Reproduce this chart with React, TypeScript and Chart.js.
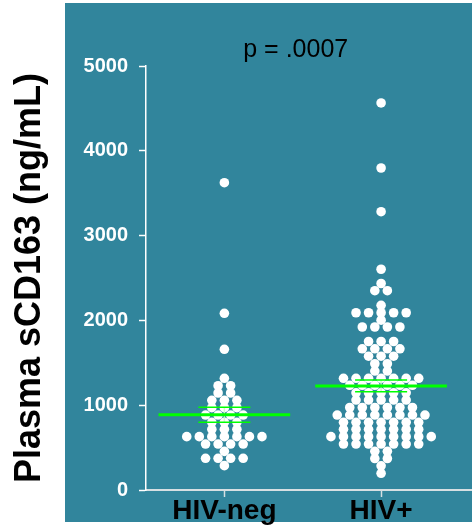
import { useEffect, useRef } from "react";
import { Chart, registerables } from "chart.js";

Chart.register(...registerables);

// Group names on the x axis
const groups = ["HIV-neg", "HIV+"];

// Plasma sCD163 (ng/mL), one entry per subject
const hivNeg = [
  3624, 2084, 1659, 1317,
  1230, 1230,
  1144, 1144,
  1058, 1058, 1058,
  971, 971, 971,
  884, 884, 884, 884,
  798, 798, 798,
  716, 716, 716,
  629, 629, 629, 629, 629, 629, 629,
  542, 542, 542, 542,
  456,
  374, 374, 374, 374,
  287,
];

const hivPos = [
  4564, 3797, 3282, 2603, 2435,
  2350, 2350,
  2178,
  2090, 2090, 2090, 2090, 2090,
  2002,
  1922, 1922, 1922, 1922,
  1751, 1751, 1751,
  1665, 1665, 1665, 1665,
  1578, 1578, 1578,
  1489, 1489,
  1403, 1403,
  1317, 1317, 1317, 1317, 1317, 1317, 1317,
  1235, 1235, 1235, 1235, 1235, 1235,
  1146, 1146, 1146, 1146, 1146,
  1061, 1061, 1061, 1061, 1061,
  973, 973, 973, 973, 973, 973,
  884, 884, 884, 884, 884, 884, 884, 884,
  798, 798, 798, 798, 798, 798, 798,
  716, 716, 716, 716, 716, 716, 716,
  629, 629, 629, 629, 629, 629, 629, 629, 629,
  542, 542, 542, 542, 542, 542, 542,
  456, 456,
  371, 371,
  285,
  197,
];

const yMin = 0;
const yMax = 5000;
const yStep = 1000;

const yTitle = "Plasma sCD163 (ng/mL)";
const pText = "p = .0007";

const PANEL = "#31859C";
const GREEN = "#00FF00";
const FONT = "'Liberation Sans', Arial, sans-serif";
const DOT_STEP = 0.08; // spacing of dots sharing a row, in category units

type Pt = { x: number; y: number };

// Spread dots that share a value side by side, centred on the group
function swarm(values: number[], index: number): Pt[] {
  const rows = new Map<number, number>();
  values.forEach((v) => rows.set(v, (rows.get(v) ?? 0) + 1));
  const pts: Pt[] = [];
  rows.forEach((n, v) => {
    for (let i = 0; i < n; i++) {
      pts.push({ x: index + (i - (n - 1) / 2) * DOT_STEP, y: v });
    }
  });
  return pts;
}

function meanSem(values: number[]) {
  const n = values.length;
  const mean = values.reduce((a, b) => a + b, 0) / n;
  const sd = Math.sqrt(values.reduce((a, b) => a + (b - mean) ** 2, 0) / (n - 1));
  return { mean, sem: sd / Math.sqrt(n) };
}

const allGroups = [hivNeg, hivPos];

const panelPlugin = {
  id: "panel",
  beforeDraw(chart: any) {
    const { ctx, width, height } = chart;
    ctx.save();
    ctx.fillStyle = "#ffffff";
    ctx.fillRect(0, 0, width, height);
    ctx.fillStyle = PANEL;
    ctx.fillRect(65, 3, width - 65, height - 8);
    ctx.restore();
  },
};

const meanPlugin = {
  id: "meanSem",
  afterDatasetsDraw(chart: any) {
    const { ctx } = chart;
    const xs = chart.scales.x;
    const ys = chart.scales.y;
    ctx.save();
    allGroups.forEach((vals, i) => {
      const { mean, sem } = meanSem(vals);
      const cx = xs.getPixelForValue(i);
      const yMean = ys.getPixelForValue(mean);
      const yHi = ys.getPixelForValue(mean + sem);
      const yLo = ys.getPixelForValue(mean - sem);
      // vertical SEM bar
      ctx.strokeStyle = "rgba(205,250,205,0.95)";
      ctx.lineWidth = 1.5;
      ctx.beginPath();
      ctx.moveTo(cx, yHi);
      ctx.lineTo(cx, yLo);
      ctx.stroke();
      // caps
      ctx.strokeStyle = GREEN;
      ctx.lineWidth = 1.5;
      const c0 = xs.getPixelForValue(i - 0.166);
      const c1 = xs.getPixelForValue(i + 0.166);
      ctx.beginPath();
      ctx.moveTo(c0, yHi);
      ctx.lineTo(c1, yHi);
      ctx.moveTo(c0, yLo);
      ctx.lineTo(c1, yLo);
      ctx.stroke();
      // mean
      ctx.lineWidth = 3;
      ctx.beginPath();
      ctx.moveTo(xs.getPixelForValue(i - 0.42), yMean);
      ctx.lineTo(xs.getPixelForValue(i + 0.42), yMean);
      ctx.stroke();
    });
    ctx.restore();
  },
};

const pPlugin = {
  id: "pValue",
  afterDraw(chart: any) {
    const { ctx, chartArea } = chart;
    const xs = chart.scales.x;
    const cx = (xs.getPixelForValue(0) + xs.getPixelForValue(1)) / 2 - 7;
    ctx.save();
    ctx.font = `25px ${FONT}`;
    ctx.fillStyle = "#000000";
    ctx.textAlign = "center";
    ctx.textBaseline = "alphabetic";
    ctx.fillText(pText, cx, chartArea.top - 9.3);
    ctx.restore();
  },
};

export default function App() {
  const ref = useRef<HTMLCanvasElement | null>(null);

  useEffect(() => {
    if (!ref.current) return;
    const chart = new Chart(ref.current, {
      type: "scatter",
      data: {
        datasets: allGroups.map((vals, i) => ({
          label: groups[i],
          data: swarm(vals, i),
          backgroundColor: "#ffffff",
          borderWidth: 0,
          pointRadius: 4.8,
          pointHoverRadius: 4.8,
        })),
      },
      options: {
        animation: false,
        responsive: false,
        devicePixelRatio: 1,
        layout: { autoPadding: false, padding: { top: 66, right: 0, bottom: 0, left: 0 } },
        plugins: {
          legend: { display: false },
          tooltip: { enabled: false },
        },
        scales: {
          x: {
            type: "linear",
            min: -0.5,
            max: 1.58,
            afterBuildTicks: (scale: any) => {
              scale.ticks = groups.map((_, i) => ({ value: i }));
            },
            afterFit: (scale: any) => {
              scale.height = 37;
              scale.paddingLeft = 0;
              scale.paddingRight = 0;
            },
            ticks: {
              autoSkip: false,
              maxRotation: 0,
              padding: -3,
              color: "#000000",
              font: { family: FONT, size: 28, weight: "bold" },
              callback: (v: any) => groups[Math.round(Number(v))] ?? "",
            },
            grid: {
              drawOnChartArea: false,
              drawTicks: true,
              tickLength: 7,
              tickWidth: 1.5,
              tickColor: "#d6dfe2",
              color: "#d6dfe2",
            },
            border: { color: "#d6dfe2", width: 2 },
          },
          y: {
            type: "linear",
            min: yMin,
            max: yMax,
            afterFit: (scale: any) => {
              scale.width = 146;
              scale.paddingTop = 0;
              scale.paddingBottom = 0;
            },
            ticks: {
              stepSize: yStep,
              padding: 11,
              color: "#ffffff",
              font: { family: FONT, size: 20, weight: "bold" },
              callback: (v: any) => String(v),
            },
            grid: {
              drawOnChartArea: false,
              tickLength: 7,
              tickWidth: 1.5,
              tickColor: "#ffffff",
              color: "#ffffff",
            },
            border: { color: "#ffffff", width: 1.5 },
            title: {
              display: true,
              text: yTitle,
              color: "#000000",
              font: { family: FONT, size: 36, weight: "bold" },
              padding: { top: 8.6, bottom: 0 },
            },
          },
        },
      },
      plugins: [panelPlugin, meanPlugin, pPlugin],
    });
    return () => chart.destroy();
  }, []);

  return (
    <div style={{ position: "absolute", left: 0, top: 0, width: 472, height: 527 }}>
      <canvas ref={ref} width={472} height={527} />
    </div>
  );
}
